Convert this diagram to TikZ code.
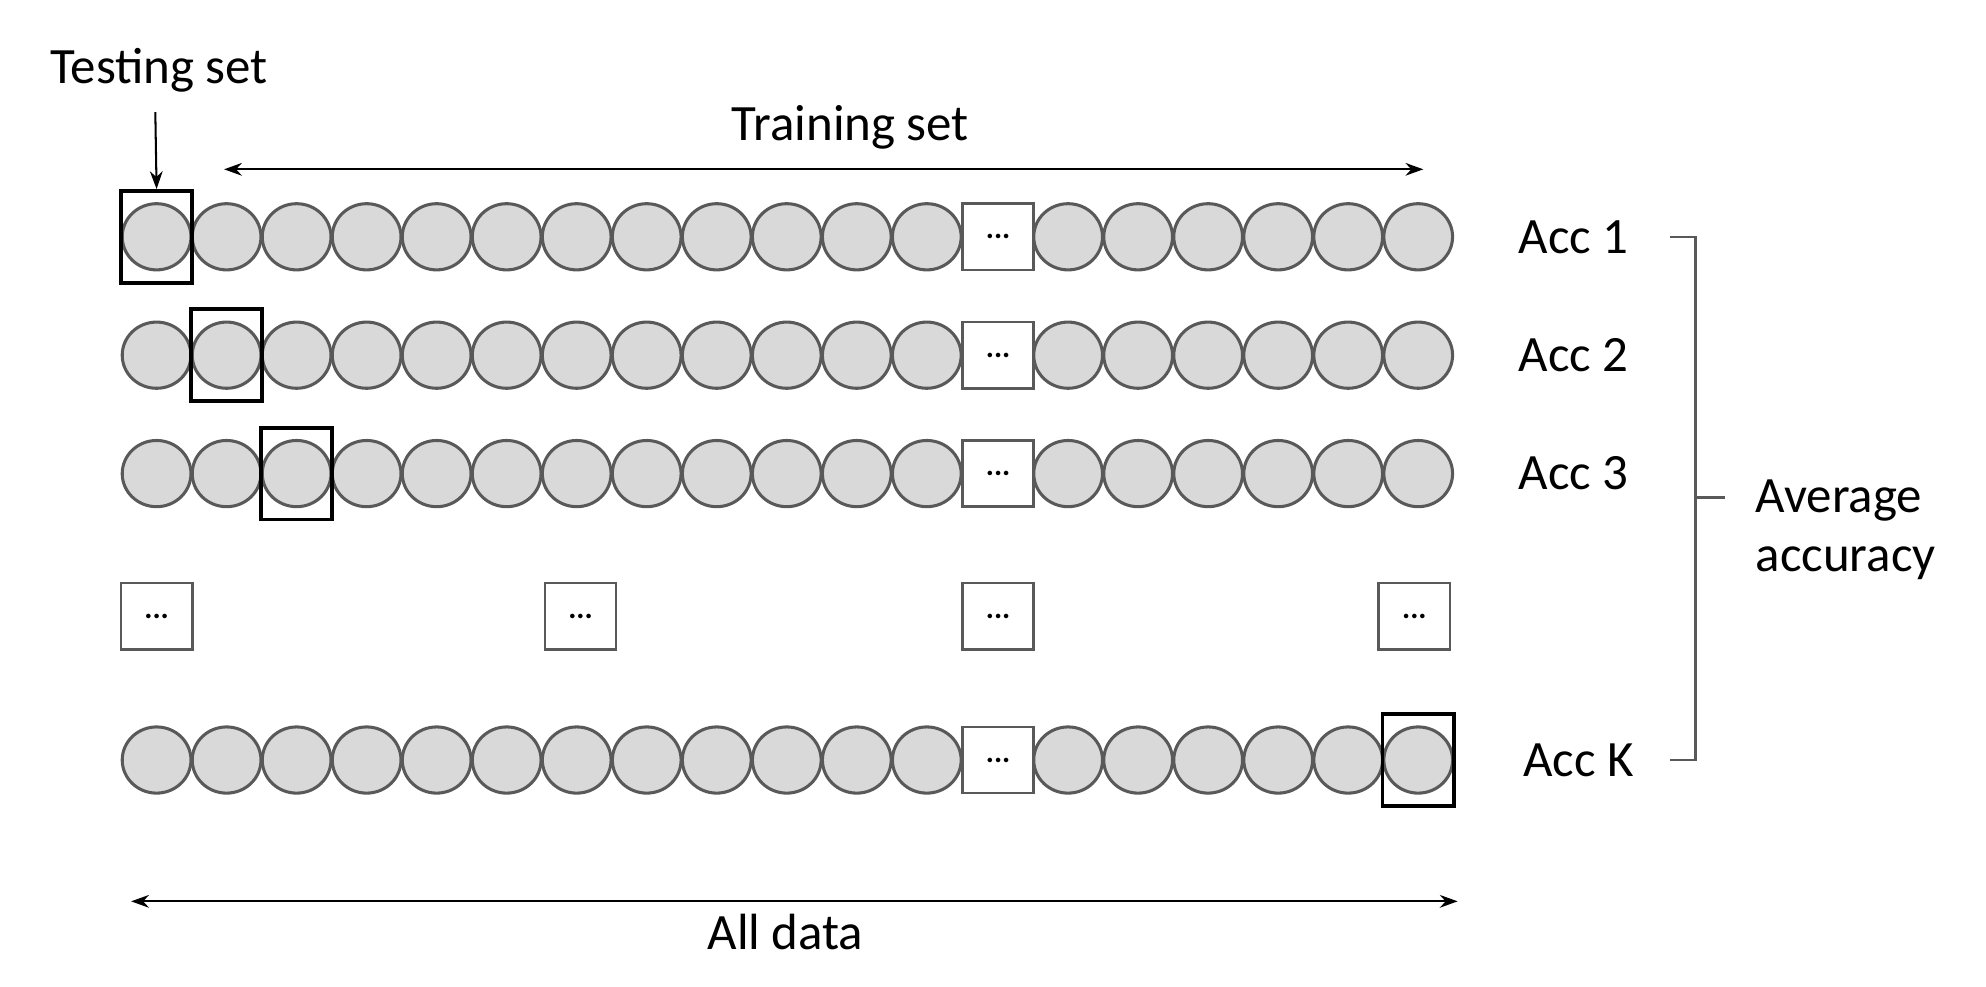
\documentclass[tikz,border=0pt]{standalone}
\usepackage{fontspec}
\setmainfont{Carlito}
\usetikzlibrary{arrows.meta,shapes.geometric}
\begin{document}
\begin{tikzpicture}[x=0.5pt,y=-0.5pt,
  dot/.style={ellipse,draw=gray!70!black,fill=gray!30,line width=1.2pt,minimum width=27pt,minimum height=26pt,inner sep=0pt},
  ell/.style={draw=gray!70!black,line width=1pt,fill=white,minimum width=28pt,minimum height=26pt,inner sep=0pt,font=\fontsize{12}{12}\selectfont\bfseries},
  tbox/.style={draw=black,line width=1.5pt,minimum width=28pt,minimum height=36pt,inner sep=0pt},
  lbl/.style={font=\fontsize{20}{23}\selectfont},
  arr/.style={-{Stealth[length=7pt,width=5pt]},line width=0.8pt}]
\useasboundingbox (0,0) rectangle (1560,775);
\foreach \r/\y in {1/186,2/279,3/372,4/597}{
  \foreach \i in {0,...,11}{\node[dot] (c\r-\i) at (123+55*\i,\y) {};}
  \node[ell] (e\r) at (784,\y) {...};
  \foreach \i in {0,...,5}{\node[dot] (d\r-\i) at (839+55*\i,\y) {};}
}
\node[tbox] (t1) at (c1-0) {};
\node[tbox] (t2) at (c2-1) {};
\node[tbox] (t3) at (c3-2) {};
\node[tbox] (t4) at (d4-5) {};
\foreach \x [count=\k] in {123,456,784,1111}{\node[ell] (m\k) at (\x,484) {...};}
\node[lbl] (test) at (125,55) {Testing set};
\coordinate (ta) at (122,88);
\draw[arr] (ta) -- (t1.north);
\node[lbl] (train) at (668,100) {Training set};
\coordinate (tl) at (176,133); \coordinate (tr) at (1118,133);
\draw[{Stealth[length=7pt,width=5pt]}-{Stealth[length=7pt,width=5pt]},line width=0.8pt] (tl) -- (tr);
\node[lbl] (a1) at (1236,186) {Acc 1};
\node[lbl] (a2) at (1236,279) {Acc 2};
\node[lbl] (a3) at (1236,372) {Acc 3};
\node[lbl] (a4) at (1240,597) {Acc K};
\draw[gray!70!black,line width=1pt] (1312,186) -- (1332,186) -- (1332,597) -- (1312,597);
\draw[gray!70!black,line width=1pt] (1332,391) -- (1355,391);
\node[lbl,align=left,anchor=west] (avg) at (1372,416) {Average\\accuracy};
\coordinate (al) at (103,708); \coordinate (ar) at (1145,708);
\draw[{Stealth[length=7pt,width=5pt]}-{Stealth[length=7pt,width=5pt]},line width=0.8pt] (al) -- (ar);
\node[lbl] (all) at (617,732) {All data};
\end{tikzpicture}
\end{document}
